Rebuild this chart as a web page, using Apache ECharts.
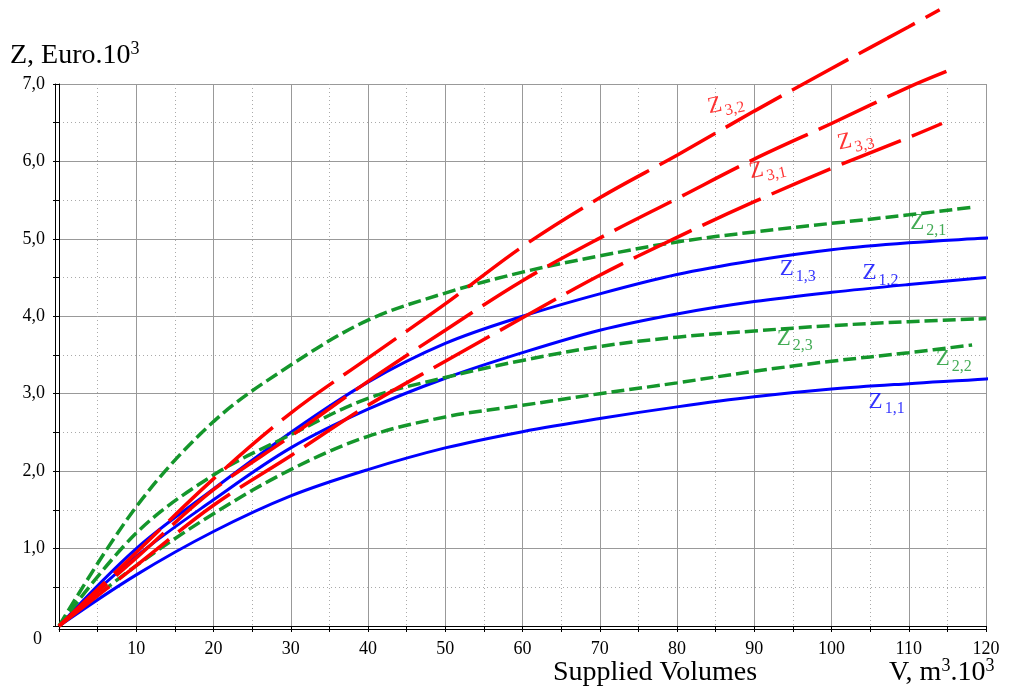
<!DOCTYPE html>
<html>
<head>
<meta charset="utf-8">
<script src="https://cdn.jsdelivr.net/npm/echarts@6/dist/echarts.min.js"></script>
<style>
  html, body { margin: 0; padding: 0; background: #fff; }
  #chart { width: 1011px; height: 697px; }
</style>
</head>
<body>
<div id="chart"></div>
<script>
// supplied volume, m3.10^3
const V = [0, 10, 20, 30, 40, 50, 60, 70, 80, 90, 100, 110, 120];

// Z, Euro.10^3, last pair = end of curve
const z11 = [0, 0.66, 1.22, 1.68, 2.02, 2.30, 2.51, 2.68, 2.83, 2.96, 3.06, 3.13, 3.19];
const z11End = [121.5, 3.21];
const z12 = [0, 0.90, 1.63, 2.30, 2.80, 3.20, 3.53, 3.82, 4.03, 4.19, 4.31, 4.41, 4.50];
const z12End = null;
const z13 = [0, 1.00, 1.77, 2.50, 3.15, 3.65, 4.00, 4.29, 4.54, 4.72, 4.86, 4.95, 5.01];
const z13End = [123.2, 5.03];

const z21 = [0, 1.54, 2.64, 3.37, 3.95, 4.30, 4.57, 4.78, 4.96, 5.09, 5.20, 5.31];
const z21End = [118.4, 5.41];
const z22 = [0, 0.78, 1.45, 2.02, 2.45, 2.70, 2.85, 3.00, 3.14, 3.29, 3.42, 3.53];
const z22End = [118.2, 3.63];
const z23 = [0, 1.20, 1.95, 2.47, 2.94, 3.21, 3.43, 3.61, 3.73, 3.81, 3.88, 3.93, 3.97];
const z23End = null;

const z31 = [0, 0.88, 1.76, 2.45, 3.16, 3.82, 4.46, 5.01, 5.52, 6.03, 6.49, 6.96];
const z31End = [115.3, 7.18];
const z32 = [0, 0.95, 1.90, 2.75, 3.46, 4.16, 4.90, 5.53, 6.08, 6.65, 7.20, 7.74];
const z32End = [114.0, 7.96];
const z33 = [0, 0.78, 1.56, 2.20, 2.85, 3.42, 3.98, 4.53, 5.02, 5.48, 5.91, 6.31];
const z33End = [114.3, 6.49];

// curve labels: name, subscript, where the Z starts (data units)
const labelNames = ['Z', 'Z', 'Z', 'Z', 'Z', 'Z', 'Z', 'Z', 'Z'];
const labelSubs = ['3,2', '3,1', '3,3', '2,1', '1,3', '1,2', '2,3', '2,2', '1,1'];
const labelAt = [[84.0, 6.70], [89.4, 5.86], [100.8, 6.23], [110.2, 5.20], [93.3, 4.61],
                 [104.0, 4.56], [92.9, 3.71], [113.5, 3.45], [104.8, 2.90]];

const BLUE = '#0000ff', GREEN = '#14962b', RED = '#ff0000';
const labelColors = [RED, RED, RED, GREEN, BLUE, BLUE, GREEN, GREEN, BLUE];
const labelRotate = [12, 12, 12, 0, 0, 0, 0, 0, 0];

const FONT = '"Liberation Serif", "DejaVu Serif", serif';

function pts(vals, end) {
  let d = vals.map((z, i) => [V[i], z]);
  if (end) d.push(end);
  return d;
}

function curve(name, vals, end, color, dash) {
  return {
    name: name,
    type: 'line',
    data: pts(vals, end),
    smooth: 0.35,
    symbol: 'none',
    clip: false,
    lineStyle: { color: color, width: dash ? 3.5 : 3, type: dash || 'solid', cap: 'butt' },
    z: 3
  };
}

const GREEN_DASH = [13, 5];
const RED_DASH = [64, 12];

// text with superscripts, e.g. 10^3
const supRich = {
  a: { fontSize: 28, fontFamily: FONT, fill: '#000', lineHeight: 36, verticalAlign: 'bottom' },
  b: { fontSize: 18, fontFamily: FONT, fill: '#000', lineHeight: 20, verticalAlign: 'top', padding: [6, 0, 0, 0] }
};

let myChart = echarts.init(document.getElementById('chart'));

let option = {
  animation: false,
  backgroundColor: '#fff',
  textStyle: { fontFamily: FONT },
  grid: { left: 59, right: 25, top: 84, bottom: 71 },
  xAxis: [{
    type: 'value',
    min: 0,
    max: 120,
    interval: 10,
    axisLine: { show: true, onZero: false, lineStyle: { color: '#000', width: 1 } },
    axisTick: { show: true, length: 6, lineStyle: { color: '#000' } },
    minorTick: { show: true, splitNumber: 2, length: 6, lineStyle: { color: '#000' } },
    axisLabel: {
      color: '#000', fontSize: 18, fontFamily: FONT, margin: 14,
      formatter: function (v) { return v === 0 ? '' : String(v); }
    },
    splitLine: { show: true, lineStyle: { color: '#999', width: 1 } },
    minorSplitLine: { show: true, lineStyle: { color: '#aaa', width: 1, type: [1, 3] } }
  }, {
    // second stroke of the double axis line
    type: 'value', min: 0, max: 120, position: 'bottom', offset: 3,
    axisLine: { show: true, onZero: false, lineStyle: { color: '#000', width: 1 } },
    axisTick: { show: false }, axisLabel: { show: false }, splitLine: { show: false }
  }],
  yAxis: [{
    type: 'value',
    min: 0,
    max: 7,
    interval: 1,
    axisLine: { show: true, onZero: false, lineStyle: { color: '#000', width: 1 } },
    axisTick: { show: true, length: 6, lineStyle: { color: '#000' } },
    minorTick: { show: true, splitNumber: 2, length: 6, lineStyle: { color: '#000' } },
    axisLabel: {
      color: '#000', fontSize: 18, fontFamily: FONT, margin: 14,
      formatter: function (v) { return v === 0 ? '' : v.toFixed(1).replace('.', ','); }
    },
    splitLine: { show: true, lineStyle: { color: '#999', width: 1 } },
    minorSplitLine: { show: true, lineStyle: { color: '#aaa', width: 1, type: [1, 3] } }
  }, {
    type: 'value', min: 0, max: 7, position: 'left', offset: 4,
    axisLine: { show: true, onZero: false, lineStyle: { color: '#000', width: 1 } },
    axisTick: { show: false }, axisLabel: { show: false }, splitLine: { show: false }
  }],
  graphic: [
    {
      type: 'text', left: 10, top: 34,
      style: { text: '{a|Z, Euro.10}{b|3}', rich: supRich }
    },
    {
      type: 'text', left: 33, top: 630,
      style: { text: '0', fontSize: 18, fontFamily: FONT, fill: '#000' }
    },
    {
      type: 'text', left: 553, top: 659,
      style: { text: 'Supplied Volumes', fontSize: 28, fontFamily: FONT, fill: '#000' }
    },
    {
      type: 'text', left: 889, top: 651,
      style: { text: '{a|V, m}{b|3}{a|.10}{b|3}', rich: supRich }
    }
  ],
  series: [
    curve('Z1,1', z11, z11End, BLUE),
    curve('Z1,2', z12, z12End, BLUE),
    curve('Z1,3', z13, z13End, BLUE),
    curve('Z2,1', z21, z21End, GREEN, GREEN_DASH),
    curve('Z2,2', z22, z22End, GREEN, GREEN_DASH),
    curve('Z2,3', z23, z23End, GREEN, GREEN_DASH),
    curve('Z3,1', z31, z31End, RED, RED_DASH),
    curve('Z3,2', z32, z32End, RED, RED_DASH),
    curve('Z3,3', z33, z33End, RED, RED_DASH),
    {
      name: 'labels',
      type: 'scatter',
      symbolSize: 0,
      clip: false,
      silent: true,
      z: 5,
      data: labelAt.map(function (p, i) {
        return {
          value: p,
          label: {
            show: true,
            position: 'right',
            distance: 0,
            offset: [0, 2],
            rotate: labelRotate[i],
            formatter: '{z|' + labelNames[i] + '}{s|' + labelSubs[i] + '}',
            rich: {
              z: { fontSize: 23, fontFamily: FONT, color: labelColors[i], lineHeight: 27, verticalAlign: 'top' },
              s: { fontSize: 16, fontFamily: FONT, color: labelColors[i], lineHeight: 27, verticalAlign: 'bottom', padding: [0, 0, 0, 2] }
            }
          }
        };
      })
    }
  ]
};

myChart.setOption(option);
</script>
</body>
</html>
